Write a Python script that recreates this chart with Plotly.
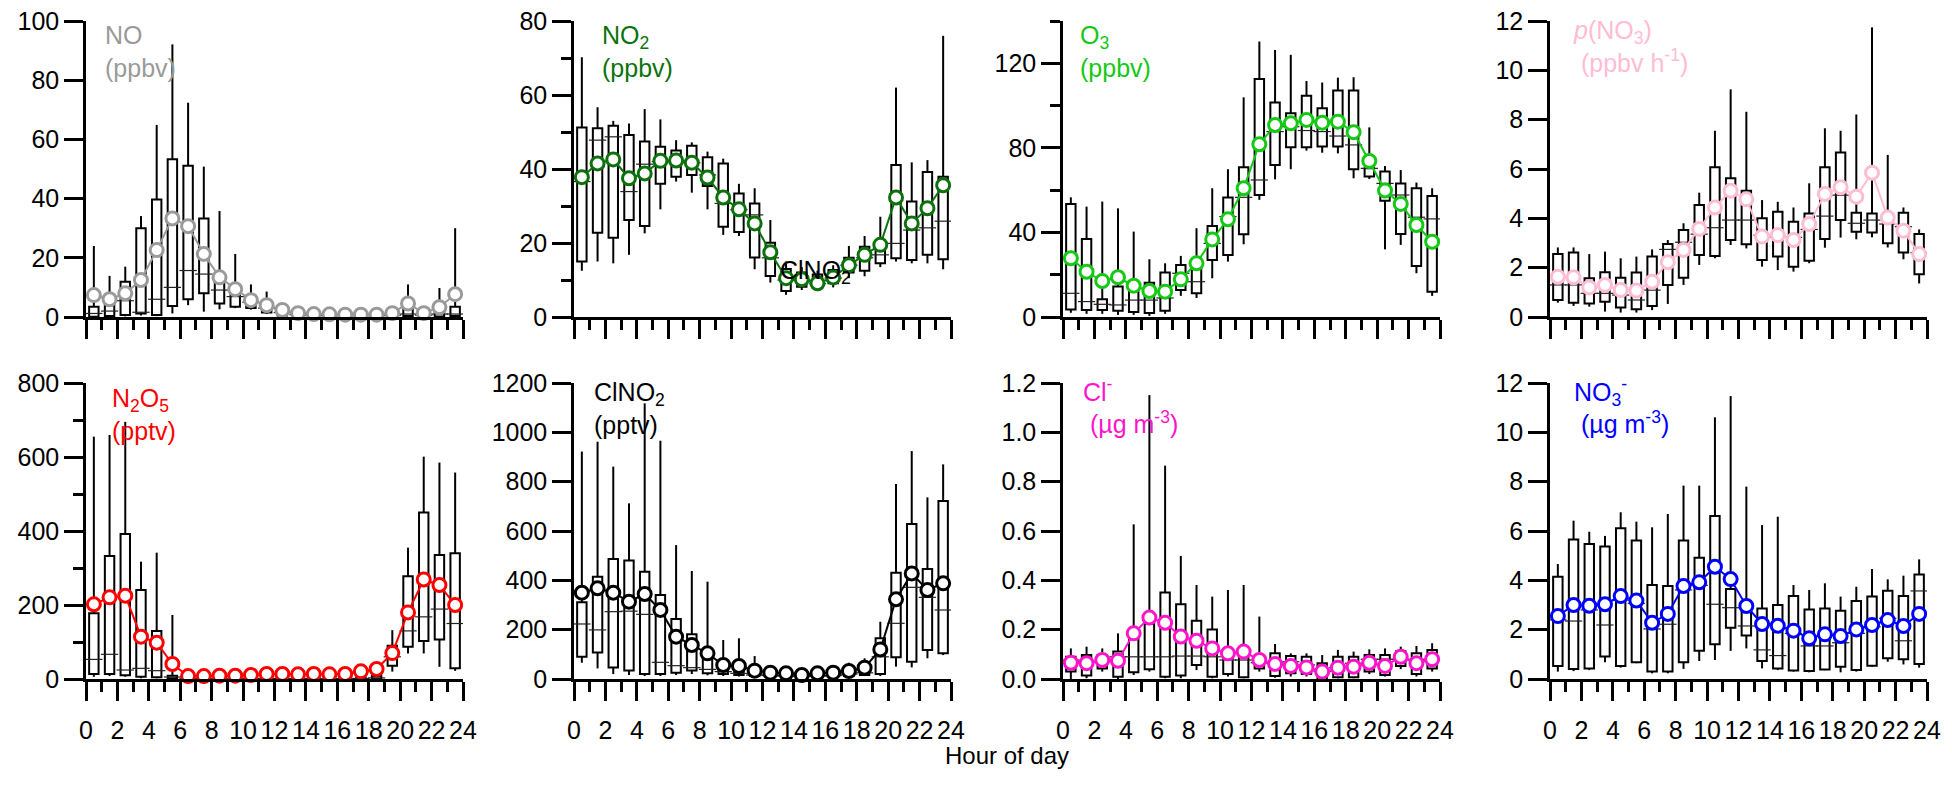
"""Diurnal box plots: NO, NO2, O3, p(NO3), N2O5, ClNO2, Cl-, NO3-"""
import plotly.graph_objects as go

HOURS = [0.5, 1.5, 2.5, 3.5, 4.5, 5.5, 6.5, 7.5, 8.5, 9.5, 10.5, 11.5,
         12.5, 13.5, 14.5, 15.5, 16.5, 17.5, 18.5, 19.5, 20.5, 21.5, 22.5, 23.5]

# ---- NO (ppbv)
NO_MEAN = [7.4, 6.0, 8.0, 12.5, 22.6, 33.3, 30.7, 21.3, 13.4, 9.4, 5.7, 4.0,
           2.4, 1.3, 1.0, 0.9, 0.8, 0.8, 0.8, 1.3, 4.6, 1.3, 3.3, 7.7]
NO_MED = [1.2, 2.0, 5.5, 1.6, 6.0, 10.0, 15.7, 14.5, 9.1, 6.9, 5.0, 3.0,
          1.5, 0.8, 0.6, 0.5, 0.5, 0.5, 0.5, 0.6, 1.0, 0.6, 1.0, 1.0]
NO_Q1 = [0.1, 0.3, 0.7, 1.2, 0.7, 3.7, 6.0, 8.0, 4.6, 3.5, 3.0, 1.5,
         0.5, 0.3, 0.2, 0.2, 0.2, 0.2, 0.2, 0.2, 0.3, 0.2, 0.2, 0.3]
NO_Q3 = [3.5, 4.0, 11.9, 30.0, 39.7, 53.3, 51.1, 33.3, 13.0, 9.0, 6.5, 4.0,
         2.5, 1.5, 1.2, 1.0, 1.0, 1.0, 1.0, 1.5, 3.0, 1.5, 2.5, 3.5]
NO_LO = [0.0, 0.0, 0.2, 0.5, 0.3, 1.2, 4.0, 1.8, 2.6, 3.0, 2.5, 1.0,
         0.2, 0.1, 0.1, 0.1, 0.1, 0.1, 0.1, 0.1, 0.1, 0.1, 0.1, 0.1]
NO_HI = [24.0, 13.9, 17.0, 34.1, 64.9, 92.1, 72.4, 50.8, 35.8, 21.3, 11.0, 8.6,
         4.0, 2.5, 2.0, 1.5, 1.5, 1.5, 1.5, 2.5, 11.0, 3.0, 9.8, 30.0]

# ---- NO2 (ppbv)
NO2_MEAN = [37.8, 41.5, 42.6, 37.5, 38.8, 42.2, 42.3, 41.7, 37.7, 32.3, 29.1, 25.3,
            17.5, 10.5, 10.2, 9.1, 10.7, 14.0, 16.8, 19.5, 32.3, 25.3, 29.4, 35.6]
NO2_MED = [36.6, 47.8, 48.7, 33.9, 41.3, 42.0, 42.0, 41.7, 38.4, 30.7, 29.0, 27.6,
           16.0, 10.0, 10.0, 9.0, 10.5, 14.0, 16.0, 16.8, 19.9, 23.5, 24.1, 25.9]
NO2_Q1 = [15.0, 22.8, 21.4, 26.2, 24.6, 36.0, 37.9, 38.4, 35.4, 24.4, 23.0, 16.1,
          11.1, 7.0, 8.2, 8.0, 9.1, 12.0, 12.5, 14.5, 15.9, 15.4, 16.8, 15.6]
NO2_Q3 = [51.2, 51.0, 51.7, 49.2, 47.4, 46.0, 45.0, 46.3, 43.2, 41.5, 33.4, 30.7,
          20.1, 13.0, 12.0, 11.5, 12.7, 16.0, 19.0, 18.3, 41.1, 31.2, 39.2, 37.9]
NO2_LO = [12.5, 15.0, 14.5, 16.8, 22.6, 29.1, 36.6, 33.6, 29.1, 22.2, 21.9, 12.9,
          9.3, 6.0, 7.3, 7.0, 8.0, 10.5, 11.0, 13.5, 15.0, 14.5, 14.5, 12.9]
NO2_HI = [70.2, 56.7, 53.0, 52.3, 56.2, 53.4, 47.8, 47.2, 44.7, 42.8, 36.0, 34.8,
          26.2, 15.0, 13.5, 12.5, 14.0, 19.2, 21.9, 27.1, 62.0, 41.8, 42.4, 76.0]

# ---- O3 (ppbv)
O3_MEAN = [27.8, 21.4, 17.0, 18.8, 14.8, 12.3, 12.0, 17.8, 25.4, 36.7, 46.2, 60.9,
           81.7, 90.8, 91.6, 93.2, 91.9, 92.4, 87.4, 73.8, 59.8, 53.5, 43.5, 35.6]
O3_MED = [11.2, 7.3, 6.0, 5.7, 8.0, 8.0, 9.0, 20.7, 16.7, 34.8, 47.5, 56.6,
          64.8, 87.7, 90.0, 88.2, 87.7, 85.6, 81.4, 70.3, 63.2, 57.7, 47.2, 46.4]
O3_Q1 = [3.6, 3.3, 3.3, 3.0, 2.4, 1.9, 3.0, 12.8, 11.2, 27.0, 29.3, 39.1,
         57.7, 71.9, 80.3, 80.3, 80.6, 80.6, 69.9, 66.4, 55.0, 39.3, 24.1, 12.0]
O3_Q3 = [53.5, 36.9, 8.4, 14.4, 15.5, 16.2, 21.0, 24.6, 23.0, 43.0, 56.5, 70.8,
         112.6, 101.4, 96.4, 104.6, 98.7, 107.1, 107.1, 70.3, 68.8, 63.2, 60.9, 57.2]
O3_LO = [2.0, 1.5, 1.5, 1.0, 1.0, 0.5, 1.5, 10.0, 9.0, 18.3, 26.2, 34.4,
         55.4, 65.1, 69.9, 78.7, 77.7, 77.4, 65.6, 65.3, 32.0, 34.1, 20.7, 10.0]
O3_HI = [56.6, 52.2, 54.6, 51.4, 40.4, 27.3, 25.4, 28.9, 42.0, 60.9, 69.9, 103.9,
         130.3, 126.3, 124.0, 111.6, 110.9, 113.2, 113.4, 89.7, 71.4, 69.5, 63.6, 60.9]

# ---- p(NO3) (ppbv h-1)
PNO3_MEAN = [1.63, 1.61, 1.20, 1.30, 1.09, 1.07, 1.43, 2.22, 2.72, 3.57, 4.44, 5.12,
             4.77, 3.26, 3.32, 3.12, 3.77, 4.99, 5.26, 4.88, 5.85, 4.03, 3.50, 2.55]
PNO3_MED = [1.30, 1.30, 0.96, 0.96, 0.89, 0.69, 1.09, 2.74, 3.03, 3.36, 3.62, 3.93,
            3.93, 3.32, 3.23, 3.23, 3.55, 4.09, 4.94, 3.80, 3.93, 3.77, 3.66, 2.61]
PNO3_Q1 = [0.69, 0.58, 0.55, 0.62, 0.39, 0.31, 0.45, 1.30, 1.59, 2.51, 2.47, 3.12,
           2.95, 2.31, 2.45, 2.04, 2.28, 3.16, 3.93, 3.46, 3.43, 2.99, 2.61, 1.73]
PNO3_Q3 = [2.55, 2.61, 1.57, 1.81, 1.59, 1.80, 2.45, 2.96, 3.53, 4.54, 6.07, 5.62,
           5.12, 4.00, 4.27, 3.86, 4.20, 6.07, 6.67, 4.23, 4.20, 4.00, 4.23, 3.36]
PNO3_LO = [0.58, 0.45, 0.42, 0.22, 0.18, 0.18, 0.28, 0.53, 1.30, 2.11, 2.38, 2.92,
           2.78, 2.04, 1.90, 1.84, 2.18, 2.81, 3.22, 3.15, 3.23, 2.82, 2.34, 1.36]
PNO3_HI = [2.82, 2.82, 2.55, 2.65, 2.38, 2.45, 2.74, 3.12, 3.80, 5.04, 7.55, 9.23,
           8.32, 4.74, 4.67, 4.44, 5.42, 7.65, 7.55, 8.21, 11.74, 6.57, 4.44, 3.55]

# ---- N2O5 (pptv)
N2O5_MEAN = [201.8, 220.7, 225.2, 114.4, 98.2, 40.5, 8.0, 8.0, 9.0, 9.0, 10.8, 13.5,
             13.5, 12.6, 13.5, 12.6, 13.5, 20.7, 27.0, 70.0, 180.0, 269.0, 254.0, 200.0]
N2O5_MED = [53.0, 66.7, 24.3, 28.8, 22.5, 5.4, 1.0, 1.0, 1.0, 1.0, 1.0, 1.0,
            1.0, 1.0, 1.0, 1.0, 1.0, 1.5, 3.0, 60.0, 130.0, 168.0, 189.0, 150.0]
N2O5_Q1 = [13.5, 13.5, 10.0, 6.3, 4.5, 2.0, 0.5, 0.3, 0.3, 0.3, 0.3, 0.3,
           0.3, 0.3, 0.3, 0.3, 0.3, 0.5, 1.0, 36.0, 87.0, 103.0, 107.0, 29.0]
N2O5_Q3 = [177.5, 332.4, 391.9, 240.5, 129.7, 9.0, 2.0, 1.5, 1.5, 1.5, 1.5, 1.5,
           1.5, 1.5, 1.5, 1.5, 1.5, 3.0, 8.0, 90.0, 278.0, 450.0, 335.0, 340.0]
N2O5_LO = [6.0, 8.0, 6.0, 2.0, 2.0, 0.0, 0.0, 0.0, 0.0, 0.0, 0.0, 0.0,
           0.0, 0.0, 0.0, 0.0, 0.0, 0.0, 0.3, 20.0, 69.0, 69.0, 33.0, 22.0]
N2O5_HI = [655.0, 659.5, 695.0, 317.1, 341.4, 173.0, 5.0, 5.0, 5.0, 5.0, 5.0, 5.0,
           5.0, 5.0, 5.0, 5.0, 5.0, 10.0, 20.0, 132.0, 355.0, 601.0, 585.0, 558.0]

# ---- ClNO2 (pptv)
CLNO2_MEAN = [350.0, 367.6, 350.0, 313.5, 344.6, 280.0, 171.6, 137.8, 104.0, 56.8, 52.7, 33.8,
              25.7, 23.0, 16.2, 23.0, 25.7, 32.4, 46.0, 120.0, 323.0, 428.0, 360.8, 387.8]
CLNO2_MED = [223.0, 199.0, 273.0, 275.0, 262.0, 67.6, 54.0, 46.0, 39.0, 30.0, 23.0, 16.0,
             14.0, 12.0, 10.0, 12.0, 14.0, 20.0, 25.0, 90.0, 225.7, 371.6, 331.0, 279.7]
CLNO2_Q1 = [90.5, 107.0, 47.0, 34.0, 20.0, 20.0, 25.7, 34.0, 23.0, 20.0, 16.0, 12.0,
            10.0, 8.0, 7.0, 8.0, 10.0, 12.0, 16.0, 20.0, 88.0, 70.0, 117.6, 104.0]
CLNO2_Q3 = [311.0, 415.0, 486.5, 480.0, 435.0, 340.5, 243.0, 181.0, 90.5, 46.0, 36.0, 30.0,
            20.0, 18.0, 15.0, 18.0, 20.0, 28.0, 36.0, 165.0, 431.0, 628.0, 446.0, 721.6]
CLNO2_LO = [66.0, 43.0, 20.0, 16.0, 12.0, 12.0, 16.0, 20.0, 15.0, 12.0, 10.0, 8.0,
            6.0, 5.0, 4.0, 5.0, 6.0, 8.0, 12.0, 12.0, 50.0, 47.0, 84.0, 97.0]
CLNO2_HI = [922.0, 962.0, 861.0, 712.0, 1117.6, 966.0, 543.0, 438.0, 394.6, 158.0, 165.0, 93.0,
            50.0, 43.0, 30.0, 40.0, 50.0, 66.0, 84.0, 232.0, 790.5, 924.0, 736.5, 870.0]

# ---- Cl- (ug m-3)
CL_MEAN = [0.066, 0.064, 0.077, 0.074, 0.185, 0.249, 0.228, 0.172, 0.155, 0.124, 0.104, 0.111,
           0.077, 0.061, 0.053, 0.047, 0.030, 0.046, 0.050, 0.066, 0.053, 0.090, 0.064, 0.080]
CL_MED = [0.077, 0.070, 0.070, 0.090, 0.090, 0.090, 0.090, 0.093, 0.093, 0.090, 0.077, 0.077,
          0.066, 0.064, 0.070, 0.057, 0.030, 0.047, 0.064, 0.080, 0.080, 0.080, 0.080, 0.077]
CL_Q1 = [0.030, 0.014, 0.043, 0.009, 0.027, 0.040, 0.009, 0.014, 0.057, 0.009, 0.020, 0.007,
         0.043, 0.012, 0.023, 0.020, -0.011, 0.007, 0.007, 0.030, 0.016, 0.053, 0.020, 0.043]
CL_Q3 = [0.090, 0.097, 0.097, 0.111, 0.180, 0.223, 0.351, 0.303, 0.236, 0.201, 0.084, 0.124,
         0.088, 0.104, 0.093, 0.090, 0.064, 0.090, 0.090, 0.097, 0.097, 0.113, 0.104, 0.118]
CL_LO = [-0.010, 0.003, 0.030, -0.010, 0.016, 0.030, 0.003, 0.003, 0.036, 0.003, 0.010, 0.003,
         0.030, 0.005, 0.010, 0.010, -0.015, 0.003, 0.003, 0.020, 0.010, 0.040, 0.010, 0.030]
CL_HI = [0.124, 0.131, 0.124, 0.185, 0.627, 1.151, 0.865, 0.499, 0.381, 0.334, 0.361, 0.381,
         0.253, 0.142, 0.104, 0.104, 0.097, 0.118, 0.111, 0.120, 0.124, 0.131, 0.134, 0.145]

# ---- NO3- (ug m-3)
NO3_MEAN = [2.55, 3.00, 2.97, 3.03, 3.36, 3.18, 2.28, 2.64, 3.77, 3.92, 4.55, 4.05,
            2.96, 2.23, 2.16, 1.96, 1.65, 1.81, 1.74, 2.01, 2.19, 2.39, 2.15, 2.64]
NO3_MED = [2.40, 2.35, 2.80, 2.19, 3.20, 3.07, 2.03, 2.22, 3.61, 3.80, 3.03, 2.89,
           2.15, 1.18, 0.95, 1.85, 1.34, 1.34, 1.47, 1.85, 2.12, 2.46, 1.55, 3.57]
NO3_Q1 = [0.53, 0.41, 0.43, 0.91, 0.53, 0.68, 0.30, 0.30, 0.68, 1.15, 1.41, 2.08,
          1.76, 0.73, 0.43, 0.34, 0.32, 0.39, 0.50, 0.36, 0.54, 0.84, 0.80, 0.61]
NO3_Q3 = [4.15, 5.66, 5.47, 5.37, 6.11, 5.61, 3.81, 3.77, 5.61, 4.92, 6.61, 3.65,
          2.90, 2.86, 3.00, 3.36, 2.82, 2.86, 2.77, 3.16, 3.34, 3.58, 3.36, 4.24]
NO3_LO = [0.30, 0.32, 0.36, 0.68, 0.46, 0.64, 0.23, 0.23, 0.41, 0.73, 0.77, 1.14,
          1.24, 0.43, 0.36, 0.30, 0.27, 0.36, 0.27, 0.30, 0.50, 0.70, 0.59, 0.46]
NO3_HI = [4.66, 6.42, 5.97, 5.80, 6.76, 6.38, 6.15, 6.69, 7.84, 7.84, 10.61, 11.47,
          7.80, 6.24, 6.58, 3.81, 3.61, 3.88, 3.34, 3.74, 4.46, 4.04, 4.19, 4.85]

# page is 1952x789; the browser's default 8px body margin offsets the figure
PAGE_W, PAGE_H = 1952, 789
OFF = 8
W, H = PAGE_W - 2 * OFF, PAGE_H - 2 * OFF
FONT = "Liberation Sans, Arial, sans-serif"
FS = 25


def px(x):
    return (x - OFF) / W


def py(y):
    return 1 - (y - OFF) / H


# label, colour, (mean, median, q1, q3, lo, hi), y max, dtick, minor dtick, tick format
PANELS = [
    ("NO<br>(ppbv)", "#9a9a9a",
     (NO_MEAN, NO_MED, NO_Q1, NO_Q3, NO_LO, NO_HI), 100, 20, None, None),
    ("NO<sub>2</sub><br>(ppbv)", "#0b720b",
     (NO2_MEAN, NO2_MED, NO2_Q1, NO2_Q3, NO2_LO, NO2_HI), 80, 20, 10, None),
    ("O<sub>3</sub><br>(ppbv)", "#14c814",
     (O3_MEAN, O3_MED, O3_Q1, O3_Q3, O3_LO, O3_HI), 140, 40, 20, None),
    ("<i>p</i>(NO<sub>3</sub>)<br>\u00a0(ppbv h<sup>-1</sup>)", "#ffbcd4",
     (PNO3_MEAN, PNO3_MED, PNO3_Q1, PNO3_Q3, PNO3_LO, PNO3_HI), 12, 2, None, None),
    ("N<sub>2</sub>O<sub>5</sub><br>(pptv)", "#ff0000",
     (N2O5_MEAN, N2O5_MED, N2O5_Q1, N2O5_Q3, N2O5_LO, N2O5_HI), 800, 200, 100, None),
    ("ClNO<sub>2</sub><br>(pptv)", "#000000",
     (CLNO2_MEAN, CLNO2_MED, CLNO2_Q1, CLNO2_Q3, CLNO2_LO, CLNO2_HI), 1200, 200, None, None),
    ("Cl<sup>-</sup><br>\u00a0(\u00b5g m<sup>-3</sup>)", "#ff14cc",
     (CL_MEAN, CL_MED, CL_Q1, CL_Q3, CL_LO, CL_HI), 1.2, 0.2, None, ".1f"),
    ("NO<sub>3</sub><sup>-</sup><br>\u00a0(\u00b5g m<sup>-3</sup>)", "#0000ff",
     (NO3_MEAN, NO3_MED, NO3_Q1, NO3_Q3, NO3_LO, NO3_HI), 12, 2, None, None),
]

# panel placement in page pixels
COL_X0 = [86, 574, 1063, 1550]
PANEL_W = 377
ROW_Y = [(21, 317), (383, 679)]
LABEL_POS = [(103, 19), (600, 19), (1078, 19), (1571, 14),
             (110, 382), (592, 376), (1081, 372), (1572, 372)]

fig = go.Figure()
layout = {}
annotations = []
hidden = dict(size=1, opacity=0, color="black")

for i, (label, color, stats, ymax, dtick, minor_dtick, tfmt) in enumerate(PANELS):
    mean, med, q1, q3, lo, hi = stats
    n = i + 1
    xa, ya = f"x{n}", f"y{n}"
    row, col = divmod(i, 4)

    # box body
    fig.add_trace(go.Bar(
        x=HOURS, y=[b - a for a, b in zip(q1, q3)], base=q1, width=0.6,
        marker=dict(color="white", line=dict(color="black", width=2)),
        xaxis=xa, yaxis=ya, showlegend=False, hoverinfo="skip",
    ))
    # whiskers (no caps)
    fig.add_trace(go.Scatter(
        x=HOURS, y=q3, mode="markers", marker=hidden,
        error_y=dict(type="data", symmetric=False, visible=True,
                     array=[h - b for b, h in zip(q3, hi)], arrayminus=[0] * len(q3),
                     width=0, thickness=2, color="black"),
        xaxis=xa, yaxis=ya, showlegend=False, hoverinfo="skip",
    ))
    fig.add_trace(go.Scatter(
        x=HOURS, y=q1, mode="markers", marker=hidden,
        error_y=dict(type="data", symmetric=False, visible=True,
                     array=[0] * len(q1), arrayminus=[a - l for a, l in zip(q1, lo)],
                     width=0, thickness=2, color="black"),
        xaxis=xa, yaxis=ya, showlegend=False, hoverinfo="skip",
    ))
    # thin median line, a bit wider than the box
    fig.add_trace(go.Scatter(
        x=HOURS, y=med, mode="markers", marker=hidden,
        error_x=dict(type="constant", value=0.55, visible=True,
                     width=0, thickness=1.2, color="#222222"),
        xaxis=xa, yaxis=ya, showlegend=False, hoverinfo="skip",
    ))
    # mean
    fig.add_trace(go.Scatter(
        x=HOURS, y=mean, mode="lines+markers",
        line=dict(color=color, width=2),
        marker=dict(symbol="circle", size=13, color="white", line=dict(color=color, width=3)),
        cliponaxis=False, xaxis=xa, yaxis=ya, showlegend=False,
    ))

    x0 = COL_X0[col]
    ytop, ybot = ROW_Y[row]
    suffix = "" if n == 1 else str(n)
    layout["xaxis" + suffix] = dict(
        domain=[px(x0), px(x0 + PANEL_W)], anchor=ya, automargin=False,
        range=[0, 24], tick0=0, dtick=2, showticklabels=(row == 1),
        ticks="outside", ticklen=19, tickwidth=2.5, tickcolor="black",
        minor=dict(dtick=1, ticks="outside", ticklen=10, tickwidth=2.5, tickcolor="black"),
        showline=True, linewidth=2.5, linecolor="black",
        showgrid=False, zeroline=False, ticklabelstandoff=8, ticklabeloverflow="allow",
        tickfont=dict(family=FONT, size=FS, color="black"),
    )
    yax = dict(
        domain=[py(ybot), py(ytop)], anchor=xa, automargin=False,
        range=[0, ymax], tick0=0, dtick=dtick,
        ticks="outside", ticklen=19, tickwidth=2.5, tickcolor="black",
        showline=True, linewidth=2.5, linecolor="black",
        showgrid=False, zeroline=False, ticklabeloverflow="allow",
        tickfont=dict(family=FONT, size=FS, color="black"),
    )
    if minor_dtick:
        yax["minor"] = dict(dtick=minor_dtick, ticks="outside", ticklen=10,
                            tickwidth=2.5, tickcolor="black")
    if tfmt:
        yax["tickformat"] = tfmt
    layout["yaxis" + suffix] = yax

    lx, ly = LABEL_POS[i]
    annotations.append(dict(
        text=label, xref="paper", yref="paper", x=px(lx), y=py(ly),
        xanchor="left", yanchor="top", align="left", showarrow=False,
        font=dict(family=FONT, size=FS, color=color),
    ))

# stray ClNO2 label sitting inside the NO2 panel
annotations.append(dict(
    text="ClNO<sub>2</sub>", xref="paper", yref="paper", x=px(778), y=py(272),
    xanchor="left", yanchor="middle", showarrow=False,
    font=dict(family=FONT, size=FS, color="black"),
))
annotations.append(dict(
    text="Hour of day", xref="paper", yref="paper", x=px(1007), y=py(755),
    xanchor="center", yanchor="middle", showarrow=False,
    font=dict(family=FONT, size=24, color="black"),
))

fig.update_layout(
    width=W, height=H, margin=dict(l=0, r=0, t=0, b=0),
    paper_bgcolor="white", plot_bgcolor="white",
    showlegend=False, annotations=annotations, **layout,
)

fig.write_html("out.html")
